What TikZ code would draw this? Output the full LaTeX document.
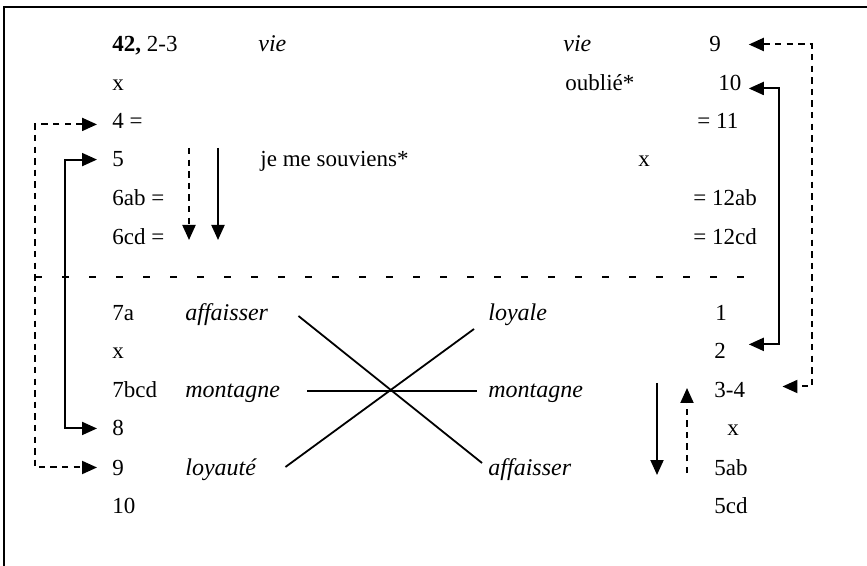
\documentclass[tikz,border=0pt]{standalone}
\usepackage{fontspec}
\setmainfont{Liberation Serif}
\usetikzlibrary{arrows.meta,calc}
\begin{document}
\begin{tikzpicture}[x=0.5pt,y=-0.5pt,
  lbl/.style={anchor=base west,inner sep=0pt,font=\fontsize{11.5}{13}\selectfont},
  itl/.style={anchor=base west,inner sep=0pt,font=\fontsize{12}{14}\selectfont\itshape},
  tip/.style={-{Triangle[length=7.5pt,width=6.5pt]}},
  link/.style={tip,line width=1pt},
  dlink/.style={link,dash pattern=on 3.2pt off 2.6pt},
  bilink/.style={line width=1pt,{Triangle[length=7.5pt,width=6.5pt]}-{Triangle[length=7.5pt,width=6.5pt]}},
  dbilink/.style={bilink,dash pattern=on 3.2pt off 2.6pt},
  cross/.style={line width=0.9pt},
  frameline/.style={line width=1.3pt},
  separator/.style={line width=0.8pt,dash pattern=on 3.5pt off 10pt}
]
\useasboundingbox (0,0) rectangle (867,566);

% outer frame (top and left sides)
\draw[frameline] (4,566) -- (4,7) -- (867,7);

% upper block, left column
\node[lbl] (t1) at (112,52)  {\textbf{42,} 2-3};
\node[lbl] (t2) at (112,91)  {x};
\node[lbl] (t3) at (112,129) {4 =};
\node[lbl] (t4) at (112,167) {5};
\node[lbl] (t5) at (112,206) {6ab =};
\node[lbl] (t6) at (112,245) {6cd =};

% upper block, middle texts
\node[itl] (vieA) at (258,52) {vie};
\node[lbl] (souv) at (260,167) {je me souviens*};
\node[itl] (vieB) at (563,52) {vie};
\node[lbl] (oubl) at (565,91) {oublié*};
\node[lbl] (xm)   at (638,167) {x};

% upper block, right column
\node[lbl] (r9)    at (709,52)  {9};
\node[lbl] (r10)   at (718,91)  {10};
\node[lbl] (r11)   at (697,129) {= 11};
\node[lbl] (r12ab) at (693,206) {= 12ab};
\node[lbl] (r12cd) at (693,245) {= 12cd};

% separator between the two blocks
\draw[separator] (35,277) -- (762,277);

% lower block, left column
\node[lbl] (b7a)   at (112,321) {7a};
\node[lbl] (bx)    at (112,359) {x};
\node[lbl] (b7bcd) at (112,398) {7bcd};
\node[lbl] (b8)    at (112,436) {8};
\node[lbl] (b9)    at (112,475) {9};
\node[lbl] (b10)   at (112,513) {10};

% lower block, words
\node[itl] (wa1) at (185,321) {affaisser};
\node[itl] (wm1) at (185,398) {montagne};
\node[itl] (wl1) at (185,475) {loyauté};
\node[itl] (wl2) at (488,321) {loyale};
\node[itl] (wm2) at (488,398) {montagne};
\node[itl] (wa2) at (488,475) {affaisser};

% lower block, right column
\node[lbl] (c1)   at (715,321) {1};
\node[lbl] (c2)   at (714,359) {2};
\node[lbl] (c34)  at (714,398) {3-4};
\node[lbl] (cx)   at (727,436) {x};
\node[lbl] (c5ab) at (714,475) {5ab};
\node[lbl] (c5cd) at (714,513) {5cd};

% crossing lines between the word pairs
\draw[cross] ($(wa1.base east)+(30,-5)$) -- ($(wa2.base west)+(-6,-12)$);
\draw[cross] ($(wl1.base east)+(29,-8)$) -- ($(wl2.base west)+(-14,8)$);
\draw[cross] ($(wm1.base east)+(27,-7)$) -- ($(wm2.base west)+(-11,-7)$);

% left-hand brackets
\draw[bilink]  ($(t4.west)+(-15,0)$) -- ++(-32,0) |- ($(b8.west)+(-15,0)$);
\draw[dbilink] ($(t3.west)+(-15,3)$) -- ++(-62,0) |- ($(b9.west)+(-15,0)$);

% right-hand brackets
\draw[bilink]  ($(r10.east)+(7,5)$) -- ++(30,0) |- ($(c2.east)+(22.5,-7)$);
\draw[dbilink] ($(r9.east)+(27.5,0)$) -- ++(63,0) |- ($(c34.east)+(37,-4)$);

% vertical reading arrows
\coordinate (dnA1) at (189,148);
\coordinate (dnA2) at (189,240);
\coordinate (dnB1) at (218,148);
\coordinate (dnB2) at (218,240);
\draw[dlink] (dnA1) -- (dnA2);
\draw[link]  (dnB1) -- (dnB2);

\coordinate (dnC1) at (657,383);
\coordinate (dnC2) at (657,475);
\coordinate (upD1) at (687,473);
\coordinate (upD2) at (687,388);
\draw[link]  (dnC1) -- (dnC2);
\draw[dlink] (upD1) -- (upD2);
\end{tikzpicture}
\end{document}
